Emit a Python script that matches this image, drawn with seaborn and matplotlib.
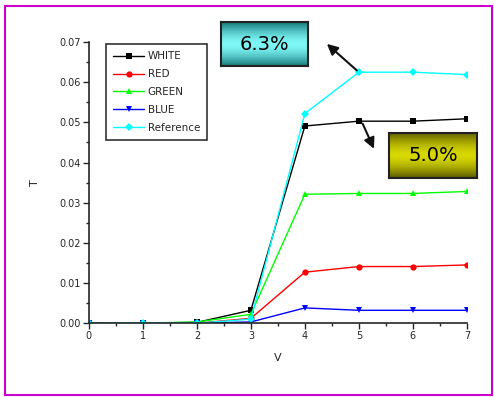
import numpy as np
import pandas as pd
import matplotlib
matplotlib.use("Agg")
import matplotlib.pyplot as plt
import seaborn as sns
from matplotlib.ticker import MultipleLocator, FormatStrFormatter
from matplotlib.patches import Rectangle

V = [0, 1, 2, 3, 4, 5, 6, 7]
white = [0.0, 0.0, 0.0002, 0.0032, 0.0491, 0.0503, 0.0503, 0.0509]
red = [0.0, 0.0001, 0.0, 0.0012, 0.0127, 0.0141, 0.0141, 0.0145]
green = [0.0, 0.0, 0.0003, 0.0022, 0.0321, 0.0323, 0.0323, 0.0328]
blue = [0.0, 0.0, 0.0, 0.0003, 0.0038, 0.0032, 0.0032, 0.0032]
reference = [0.0, 0.0001, 0.0, 0.0010, 0.0522, 0.0625, 0.0625, 0.0619]
series_names = ["WHITE", "RED", "GREEN", "BLUE", "Reference"]
series_values = [white, red, green, blue, reference]
colors = ["#000000", "#ff0000", "#00ff00", "#0000ff", "#00ffff"]
markers = ["s", "o", "^", "v", "D"]
yticks = [0.00, 0.01, 0.02, 0.03, 0.04, 0.05, 0.06, 0.07]
xticks = [0, 1, 2, 3, 4, 5, 6, 7]

rows = []
for name, vals in zip(series_names, series_values):
    for v, t in zip(V, vals):
        rows.append({"V": v, "T": t, "series": name})
df = pd.DataFrame(rows)

sns.set_style("ticks")
plt.rcParams["font.family"] = ["DejaVu Sans"]
fig = plt.figure(figsize=(4.94, 3.97), dpi=100)
fig.patch.set_facecolor("white")
ax = fig.add_axes([0.180, 0.186, 0.765, 0.708])

for name, c, m in zip(series_names, colors, markers):
    sub = df[df["series"] == name]
    sns.lineplot(data=sub, x="V", y="T", ax=ax, color=c, marker=m,
                 markersize=4.5, markeredgewidth=0, linewidth=1.0,
                 label=name, legend=False)

ax.set_xlim(0, 7)
ax.set_ylim(0, 0.07)
ax.set_xticks(xticks)
ax.set_yticks(yticks)
ax.yaxis.set_major_formatter(FormatStrFormatter("%.2f"))
ax.xaxis.set_minor_locator(MultipleLocator(0.5))
ax.yaxis.set_minor_locator(MultipleLocator(0.005))
ax.tick_params(axis="both", which="major", direction="out", length=4, width=1, labelsize=7, pad=2)
ax.tick_params(axis="both", which="minor", direction="out", length=2.5, width=1)
for s in ["top", "right"]:
    ax.spines[s].set_visible(False)
for s in ["left", "bottom"]:
    ax.spines[s].set_linewidth(1.2)
ax.set_xlabel("V", fontsize=8, labelpad=8)
ax.set_ylabel("T", fontsize=8, labelpad=14)

leg = ax.legend(loc="upper left", bbox_to_anchor=(0.045, 0.993), borderaxespad=0,
                fontsize=7.5, frameon=True, fancybox=False, edgecolor="black",
                handlelength=3.0, handletextpad=0.3, borderpad=0.7, labelspacing=0.75)
leg.get_frame().set_linewidth(1.2)

def grad_box(x0, y0, w, h, dark, light, text):
    bax = fig.add_axes([x0 / 494, 1 - (y0 + h) / 397, w / 494, h / 397])
    t = np.abs(np.linspace(-1, 1, 64))[:, None]
    d = np.array(matplotlib.colors.to_rgb(dark))
    l = np.array(matplotlib.colors.to_rgb(light))
    k = t[..., None] ** 1.6
    img = l[None, None, :] * (1 - k) + d[None, None, :] * k
    img = np.repeat(img, 4, axis=1)
    bax.imshow(img, aspect="auto", extent=[0, 1, 0, 1])
    bax.set_xticks([])
    bax.set_yticks([])
    for sp in bax.spines.values():
        sp.set_linewidth(1.5)
        sp.set_color("#222222")
    bax.text(0.5, 0.5, text, ha="center", va="center", fontsize=14, color="black")

grad_box(221, 22, 87, 44, "#147878", "#80f8f8", "6.3%")
grad_box(389, 133, 88, 45, "#5a5a00", "#d8d800", "5.0%")

ax.annotate("", xy=(5 - 0.63, 0.0700), xytext=(5, 0.0625),
            arrowprops=dict(arrowstyle="-|>", color="#111111", lw=1.5, mutation_scale=16),
            annotation_clip=False)
ax.annotate("", xy=(5.3, 0.0428), xytext=(5.05, 0.0503),
            arrowprops=dict(arrowstyle="-|>", color="#111111", lw=1.5, mutation_scale=16),
            annotation_clip=False)

fig.patches.append(Rectangle((5 / 494, 1 - 395 / 397), 487 / 494, 389 / 397,
                             transform=fig.transFigure, fill=False,
                             edgecolor="#cc00cc", linewidth=1.5))

fig.savefig("out.png", dpi=100)
